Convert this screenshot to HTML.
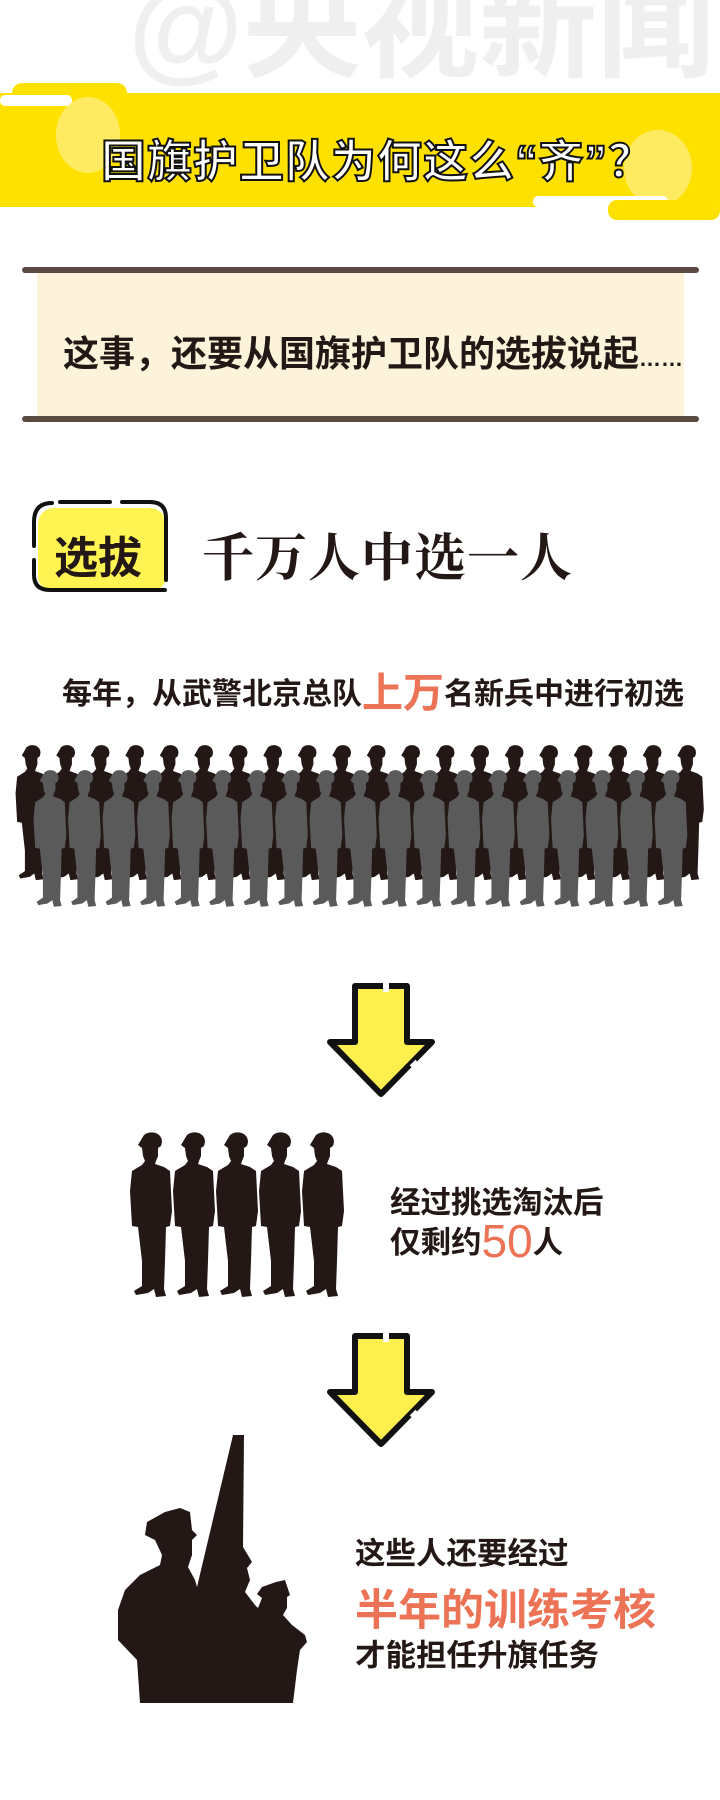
<!DOCTYPE html>
<html><head><meta charset="utf-8"><style>
body{margin:0;width:720px;height:1800px;background:#fff;overflow:hidden;position:relative;font-family:"Liberation Sans","Noto Sans CJK SC",sans-serif;}
.t{position:absolute;white-space:nowrap;color:#231815;font-weight:bold;}
.o{color:#ec7355;}
</style></head><body>
<svg width="720" height="1800" style="position:absolute;left:0;top:0">
<text x="128" y="68" font-size="118" font-weight="bold" fill="#efefef" font-family="Liberation Sans, Noto Sans CJK SC, sans-serif">@央视新闻</text>
<rect x="12" y="83" width="115" height="22" rx="10" fill="#ffe100"/>
<rect x="0" y="93" width="720" height="114" fill="#ffe100"/>
<rect x="0" y="95" width="72" height="11" rx="5" fill="#fff"/>
<ellipse cx="88" cy="135" rx="32" ry="38" fill="#fff08a" opacity="0.7"/>
<ellipse cx="658" cy="168" rx="34" ry="38" fill="#fff08a" opacity="0.7"/>
<rect x="533" y="196" width="135" height="11" rx="5" fill="#fff"/>
<rect x="608" y="200" width="112" height="20" rx="9" fill="#ffe100"/>
<rect x="37" y="272" width="647" height="147" fill="#fdf3da"/>
<rect x="22" y="267" width="677" height="6" rx="3" fill="#5a4a42"/>
<rect x="22" y="416" width="677" height="6" rx="3" fill="#5a4a42"/>
<rect x="38" y="508" width="128" height="84" rx="16" fill="#fff451"/>
<path d="M60,502 L110,502 M122,502 L150,502 Q166,502 166,518 L166,580 M34,522 Q34,503 52,503 M34,522 L34,546 M34,560 L34,575 Q34,590 50,590 L165,590" stroke="#111" stroke-width="4" fill="none" stroke-linecap="round"/>
<defs>
<path id="s" d="M16,4 C22,-1 34,1 34,11 L33,15 L30,17 L30,25 L28,30 L27,33 L36,36 L42,40 L44,80 L42,95 L38,96 L37,130 L36,158 L38,165 L28,166 L26,158 L20,162 L8,164 L6,160 L14,155 L14,130 L10,96 L4,95 L2,60 L4,40 L14,34 L17,30 L15,25 L14,17 L10,14 Z"/>
</defs>
<g fill="#231815">
<use href="#s" transform="translate(14,744) scale(0.78,0.82)"/><use href="#s" transform="translate(48.5,744) scale(0.78,0.82)"/><use href="#s" transform="translate(83,744) scale(0.78,0.82)"/><use href="#s" transform="translate(117.5,744) scale(0.78,0.82)"/><use href="#s" transform="translate(152,744) scale(0.78,0.82)"/><use href="#s" transform="translate(186.5,744) scale(0.78,0.82)"/><use href="#s" transform="translate(221,744) scale(0.78,0.82)"/><use href="#s" transform="translate(255.5,744) scale(0.78,0.82)"/><use href="#s" transform="translate(290,744) scale(0.78,0.82)"/><use href="#s" transform="translate(324.5,744) scale(0.78,0.82)"/><use href="#s" transform="translate(359,744) scale(0.78,0.82)"/><use href="#s" transform="translate(393.5,744) scale(0.78,0.82)"/><use href="#s" transform="translate(428,744) scale(0.78,0.82)"/><use href="#s" transform="translate(462.5,744) scale(0.78,0.82)"/><use href="#s" transform="translate(497,744) scale(0.78,0.82)"/><use href="#s" transform="translate(531.5,744) scale(0.78,0.82)"/><use href="#s" transform="translate(566,744) scale(0.78,0.82)"/><use href="#s" transform="translate(600.5,744) scale(0.78,0.82)"/><use href="#s" transform="translate(635,744) scale(0.78,0.82)"/><use href="#s" transform="translate(669.5,744) scale(0.78,0.82)"/>
</g>
<g fill="#5b5a5a">
<use href="#s" transform="translate(32,769) scale(0.78,0.83)"/><use href="#s" transform="translate(66.5,769) scale(0.78,0.83)"/><use href="#s" transform="translate(101,769) scale(0.78,0.83)"/><use href="#s" transform="translate(135.5,769) scale(0.78,0.83)"/><use href="#s" transform="translate(170,769) scale(0.78,0.83)"/><use href="#s" transform="translate(204.5,769) scale(0.78,0.83)"/><use href="#s" transform="translate(239,769) scale(0.78,0.83)"/><use href="#s" transform="translate(273.5,769) scale(0.78,0.83)"/><use href="#s" transform="translate(308,769) scale(0.78,0.83)"/><use href="#s" transform="translate(342.5,769) scale(0.78,0.83)"/><use href="#s" transform="translate(377,769) scale(0.78,0.83)"/><use href="#s" transform="translate(411.5,769) scale(0.78,0.83)"/><use href="#s" transform="translate(446,769) scale(0.78,0.83)"/><use href="#s" transform="translate(480.5,769) scale(0.78,0.83)"/><use href="#s" transform="translate(515,769) scale(0.78,0.83)"/><use href="#s" transform="translate(549.5,769) scale(0.78,0.83)"/><use href="#s" transform="translate(584,769) scale(0.78,0.83)"/><use href="#s" transform="translate(618.5,769) scale(0.78,0.83)"/><use href="#s" transform="translate(653,769) scale(0.78,0.83)"/>
</g>
<g id="arr">
<path d="M355,986 L407,986 L407,1042 L432,1042 L381,1094 L330,1042 L355,1042 Z" fill="#fdef4e" stroke="#111" stroke-width="6" stroke-linejoin="round"/>
<rect x="383" y="980" width="6" height="12" fill="#fff"/>
<rect x="410" y="1062" width="8" height="5" fill="#fff" transform="rotate(-45 414 1064)"/>
</g>
<use href="#arr" transform="translate(0,350)"/>
<g fill="#231815">
<use href="#s" transform="translate(128,1131)"/><use href="#s" transform="translate(171,1131)"/><use href="#s" transform="translate(214,1131)"/><use href="#s" transform="translate(257,1131)"/><use href="#s" transform="translate(300,1131)"/>
</g>
<path fill="#231815" d="M233,1435 L244,1435 L243,1547 L252,1562 L247,1568 L250,1580 L245,1592 L255,1605 L258,1608 L262,1598 L257,1594 L262,1587 L276,1582 L285,1580 L290,1595 L287,1597 L287,1608 L283,1615 L292,1625 L305,1635 L307,1642 L300,1650 L297,1670 L293,1703 L140,1703 L137,1660 L118,1640 L118,1610 L125,1590 L140,1575 L160,1565 L162,1555 L155,1540 L145,1535 L147,1522 L165,1512 L180,1508 L190,1512 L192,1530 L197,1535 L192,1540 L192,1555 L188,1567 L195,1580 L197,1587 Z"/>
</svg>
<div class="t" style="left:101px;top:125px;font-size:45px;color:#fff;-webkit-text-stroke:2px #111;letter-spacing:1px">国旗护卫队为何这么“齐”？</div>
<div class="t" style="left:63px;top:325px;font-size:36px;">这事，还要从国旗护卫队的选拔说起<span style="font-family:'Liberation Sans',sans-serif;font-size:22px">……</span></div>
<div class="t" style="left:54px;top:522px;font-size:44px;">选拔</div>
<div class="t" style="left:202px;top:516px;font-size:52px;font-family:'Liberation Serif','Noto Serif CJK SC',serif;letter-spacing:1px">千万人中选一人</div>
<div class="t" style="left:62px;top:659px;font-size:30px;">每年，从武警北京总队<span class="o" style="font-size:41px;vertical-align:-3px">上万</span>名新兵中进行初选</div>
<div class="t" style="left:390px;top:1178px;font-size:30.5px;">经过挑选淘汰后</div>
<div class="t" style="left:390px;top:1214px;font-size:30.5px;">仅剩约<span class="o" style="font-size:46px;font-weight:normal;vertical-align:-4px">50</span>人</div>
<div class="t" style="left:355px;top:1529px;font-size:30.5px;">这些人还要经过</div>
<div class="t o" style="left:355px;top:1576px;font-size:43px;">半年的训练考核</div>
<div class="t" style="left:355px;top:1631px;font-size:30.5px;">才能担任升旗任务</div>
</body></html>
